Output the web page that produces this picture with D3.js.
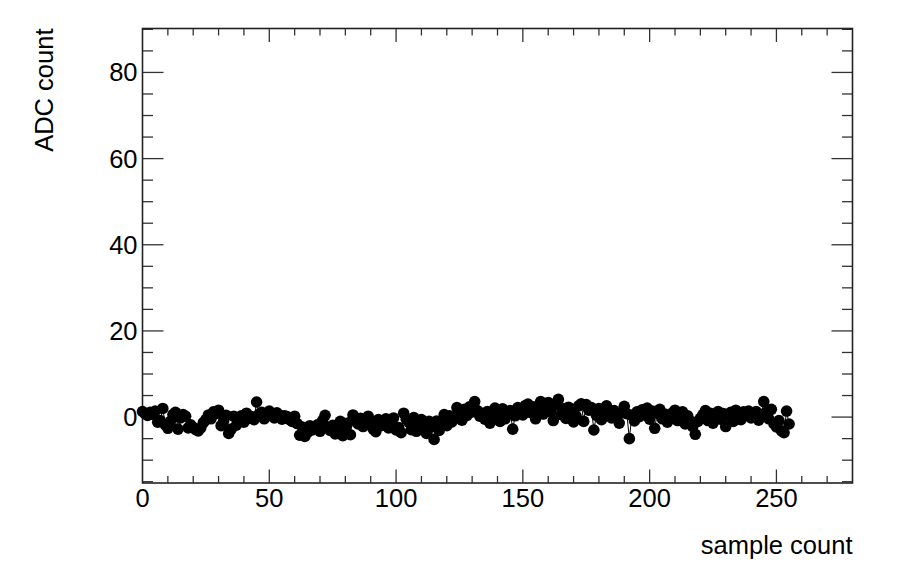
<!DOCTYPE html>
<html>
<head>
<meta charset="utf-8">
<script src="https://cdn.jsdelivr.net/npm/d3@7"></script>
<style>
  body { margin: 0; background: #fff; }
  text { font-family: "Liberation Sans", Arial, sans-serif; fill: #000; }
</style>
</head>
<body>
<div id="main"></div>
<script>
// ADC samples, one per sample count 0..255
var adc = [
  1.3, 0.8, 0.4, 1.1, 0.6, 1.4, -1.2, -0.8, 2.0, -1.8, -2.6, -1.0, 0.6, 1.1, -2.8, -0.2,
  0.6, 0.2, -2.5, -1.8, -2.4, -2.9, -3.2, -2.5, -1.3, -0.6, 0.5, -0.4, 1.2, 0.8, 1.6, -2.0,
  -0.9, 0.4, -3.8, -2.8, 0.2, -1.9, -0.5, 0.3, -1.2, 0.9, -0.3, 0.1, -0.6, 3.5, 0.7, 1.1,
  -0.4, 0.2, 1.4, 0.8, -0.2, 1.0, 0.5, -0.5, 0.3, 0.1, -0.6, -1.0, 0.2, -1.5, -4.2, -2.3,
  -4.5, -3.6, -2.0, -3.0, -2.6, -1.8, -3.3, -0.8, 0.4, -2.4, -3.1, -1.9, -3.9, -2.2, -1.0, -4.3,
  -2.6, -1.4, -4.1, 0.5, -0.8, -1.6, -0.3, -2.2, -1.0, 0.2, -1.5, -2.8, -3.4, -0.6, -2.0, -1.1,
  -0.4, -2.5, -1.8, -0.2, -3.0, -2.4, -3.6, 0.9, -0.5, -1.2, -2.9, -0.1, -3.3, -1.7, -0.6, -2.6,
  -3.8, -1.0, -2.2, -5.2, -0.9, -3.1, -1.4, 0.6, -2.0, 0.3, -1.1, -0.4, 2.2, 1.0, -0.7, 1.8,
  0.4, 2.4, 1.2, 3.6, 1.5, 0.2, 0.9, -0.5, 1.3, -1.4, -0.2, 2.1, 0.6, -1.0, 1.9, -0.4,
  0.8, 1.5, -2.8, 0.3, 2.2, 1.0, 0.5, 2.7, 3.0, 1.1, 2.4, -0.4, 1.8, 3.6, 0.7, 2.5,
  3.4, 1.2, -0.8, 2.8, 4.1, 0.6, 1.9, -0.3, 2.3, 1.0, -1.1, 0.2, 2.6, 3.1, -1.0, 2.9,
  1.6, 2.2, -3.0, 0.4, 2.0, -0.6, 1.1, 2.6, 0.9, -0.2, 1.5, 0.3, -1.4, 1.0, 2.5, 0.8,
  -5.0, 0.4, -0.9, 1.2, 0.1, 1.7, 0.6, 2.1, -0.5, 1.4, -2.6, 0.9, 1.8, -0.4, 0.7, -1.2,
  0.2, 1.0, 1.6, -0.8, 0.5, 1.2, -1.6, 0.3, -0.9, -2.2, -4.0, -1.0, -0.3, 0.6, 1.5, -0.8,
  0.9, -1.4, 0.2, 1.3, -0.5, 0.8, -2.2, 0.4, 1.1, -1.0, 1.6, 0.3, -0.6, 1.2, 0.5, 1.4,
  -0.2, 0.9, 1.3, -0.7, 0.6, 3.6, 1.1, -0.4, 1.8, -1.5, -2.3, -0.8, -3.2, -3.6, 1.4, -1.6
];
var xTicks = [0, 50, 100, 150, 200, 250];
var yTicks = [0, 20, 40, 60, 80];
var xDomain = [0, 280];
var yDomain = [-15.3, 90.2];

var width = 898, height = 575;
var padL = 142.5, padR = 852.5, padT = 28.5, padB = 483;
var fontSize = 25.5;

var svg = d3.select("#main").append("svg")
    .attr("width", width).attr("height", height);

var x = d3.scaleLinear().domain(xDomain).range([padL, padR]);
var y = d3.scaleLinear().domain(yDomain).range([padB, padT]);

var xMajorLen = 13.5, xMinorLen = 7;
var yMajorLen = 21, yMinorLen = 10.5;

// x ticks (bottom up, top down)
var xMinor = d3.range(10, 280, 10).filter(function(v){ return v % 50 != 0; });
var xMaj = xTicks.filter(function(v){ return v > 0; });
var g = svg.append("g").attr("stroke", "#333").attr("stroke-width", 1.3);
xMinor.forEach(function(v){
  g.append("line").attr("x1", x(v)).attr("x2", x(v)).attr("y1", padB).attr("y2", padB - xMinorLen);
  g.append("line").attr("x1", x(v)).attr("x2", x(v)).attr("y1", padT).attr("y2", padT + xMinorLen);
});
xMaj.forEach(function(v){
  g.append("line").attr("x1", x(v)).attr("x2", x(v)).attr("y1", padB).attr("y2", padB - xMajorLen);
  g.append("line").attr("x1", x(v)).attr("x2", x(v)).attr("y1", padT).attr("y2", padT + xMajorLen);
});
// y ticks (left in, right in)
var yMinor = d3.range(-15, 91, 5).filter(function(v){ return v % 20 != 0; });
yMinor.forEach(function(v){
  g.append("line").attr("y1", y(v)).attr("y2", y(v)).attr("x1", padL).attr("x2", padL + yMinorLen);
  g.append("line").attr("y1", y(v)).attr("y2", y(v)).attr("x1", padR).attr("x2", padR - yMinorLen);
});
yTicks.forEach(function(v){
  g.append("line").attr("y1", y(v)).attr("y2", y(v)).attr("x1", padL).attr("x2", padL + yMajorLen);
  g.append("line").attr("y1", y(v)).attr("y2", y(v)).attr("x1", padR).attr("x2", padR - yMajorLen);
});

// frame
svg.append("rect")
    .attr("x", padL).attr("y", padT)
    .attr("width", padR - padL).attr("height", padB - padT)
    .attr("fill", "none").attr("stroke", "#222").attr("stroke-width", 1.6);

// tick labels
svg.selectAll(".xl").data(xTicks).enter().append("text")
    .attr("class", "xl")
    .attr("x", function(d){ return x(d); })
    .attr("y", 506.5)
    .attr("text-anchor", "middle")
    .attr("font-size", fontSize)
    .text(function(d){ return d; });

svg.selectAll(".yl").data(yTicks).enter().append("text")
    .attr("class", "yl")
    .attr("x", 137.5)
    .attr("y", function(d){ return y(d) + 9; })
    .attr("text-anchor", "end")
    .attr("font-size", fontSize)
    .text(function(d){ return d; });

// axis titles
svg.append("text")
    .attr("x", padR).attr("y", 554)
    .attr("text-anchor", "end")
    .attr("font-size", fontSize)
    .text("sample count");

svg.append("text")
    .attr("transform", "translate(53," + padT + ") rotate(-90)")
    .attr("text-anchor", "end")
    .attr("font-size", fontSize)
    .text("ADC count");

// graph: thin line + round markers
var pts = adc.map(function(v, i){ return [i, v]; });
var line = d3.line()
    .x(function(d){ return x(d[0]); })
    .y(function(d){ return y(d[1]); });

svg.append("path")
    .datum(pts)
    .attr("d", line)
    .attr("fill", "none")
    .attr("stroke", "#000")
    .attr("stroke-width", 1);

svg.selectAll(".pt").data(pts).enter().append("circle")
    .attr("class", "pt")
    .attr("cx", function(d){ return x(d[0]); })
    .attr("cy", function(d){ return y(d[1]); })
    .attr("r", 5.8)
    .attr("fill", "#000");
</script>
</body>
</html>
